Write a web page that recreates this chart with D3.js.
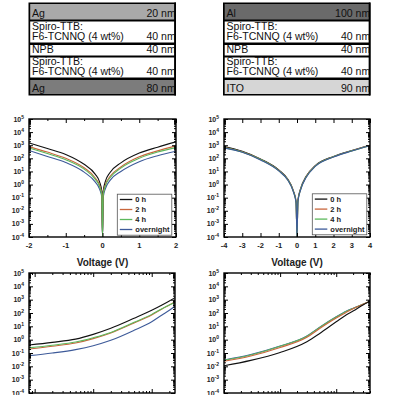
<!DOCTYPE html>
<html>
<head>
<meta charset="utf-8">
<script src="https://cdn.jsdelivr.net/npm/d3@7/dist/d3.min.js"></script>
<style>
body { margin: 0; background: #fff; }
text { font-family: "Liberation Sans", Arial, sans-serif; }
</style>
</head>
<body>
<script>
/* LAYER STACKS */
var leftLayers = ["Ag", "Spiro-TTB:|F6-TCNNQ (4 wt%)", "NPB", "Spiro-TTB:|F6-TCNNQ (4 wt%)", "Ag"];
var leftThickness = ["20 nm", "40 nm", "40 nm", "40 nm", "80 nm"];
var rightLayers = ["Al", "Spiro-TTB:|F6-TCNNQ (4 wt%)", "NPB", "Spiro-TTB:|F6-TCNNQ (4 wt%)", "ITO"];
var rightThickness = ["100 nm", "40 nm", "40 nm", "40 nm", "90 nm"];

/* SERIES */
var seriesNames = ["0 h", "2 h", "4 h", "overnight"];

var yTickExps = [-4, -3, -2, -1, 0, 1, 2, 3, 4, 5];
var xTicksLeft = [-2, -1, 0, 1, 2];
var xTicksRight = [-4, -3, -2, -1, 0, 1, 2, 3, 4];

// top left : linear voltage
var voltsTL = [-2, -1.5, -1, -0.5, -0.2, -0.08, -0.02, 0, 0.02, 0.08, 0.2, 0.5, 1, 1.5, 2];
var tl_0h   = [1.5e3, 5.6e2, 2.0e2, 35, 6.3, 1.6, 0.32, 1e-4, 0.32, 1.8, 7.9, 45, 2.5e2, 7.1e2, 1.8e3];
var tl_2h   = [7.9e2, 3.0e2, 1.0e2, 19, 3.3, 0.89, 0.2, 1e-4, 0.2, 1.0, 4.0, 22, 1.3e2, 3.7e2, 8.9e2];
var tl_4h   = [6.3e2, 2.3e2, 79, 15, 2.6, 0.71, 0.16, 1e-4, 0.16, 0.79, 3.2, 18, 1.0e2, 3.0e2, 6.6e2];
var tl_over = [4.0e2, 1.4e2, 48, 8.9, 1.6, 0.45, 0.11, 1e-4, 0.11, 0.5, 2.0, 10, 56, 1.6e2, 3.5e2];

// top right : linear voltage
var voltsTR = [-4, -3, -2, -1, -0.5, -0.2, -0.05, 0, 0.05, 0.2, 0.5, 1, 2, 3, 4];
var tr_0h   = [7.9e2, 3.4e2, 89, 13, 2.5, 0.35, 0.05, 1e-4, 0.063, 0.5, 4.2, 28, 1.4e2, 4.0e2, 1.0e3];
var tr_2h   = [7.0e2, 3.1e2, 82, 12, 2.3, 0.32, 0.045, 1e-4, 0.056, 0.45, 3.9, 26, 1.3e2, 3.8e2, 9.5e2];
var tr_4h   = [6.6e2, 3.0e2, 80, 11.5, 2.2, 0.3, 0.042, 1e-4, 0.053, 0.43, 3.7, 25, 1.3e2, 3.7e2, 9.3e2];
var tr_over = [6.3e2, 2.9e2, 76, 11, 2.1, 0.28, 0.04, 1e-4, 0.05, 0.4, 3.5, 24, 1.25e2, 3.6e2, 9.1e2];

// bottom left : log voltage
var voltsBL = [0.008, 0.02, 0.05, 0.1, 0.2, 0.5, 1, 1.5, 2, 2.5];
var bl_0h   = [0.4, 0.63, 1.1, 2.5, 7.1, 40, 1.6e2, 4.0e2, 7.9e2, 1.4e3];
var bl_2h   = [0.2, 0.32, 0.56, 1.2, 3.2, 18, 71, 2.0e2, 4.0e2, 7.1e2];
var bl_4h   = [0.24, 0.38, 0.66, 1.4, 3.5, 20, 79, 2.1e2, 4.0e2, 6.3e2];
var bl_over = [0.063, 0.1, 0.18, 0.35, 0.89, 5.0, 22, 71, 1.6e2, 3.2e2];

// bottom right : log voltage
var voltsBR = [0.01, 0.03, 0.1, 0.3, 0.5, 1, 1.5, 2, 3, 4];
var br_0h   = [0.011, 0.028, 0.11, 0.71, 2.8, 22, 71, 1.4e2, 4.0e2, 7.6e2];
var br_2h   = [0.024, 0.06, 0.26, 1.5, 6.6, 42, 1.1e2, 2.1e2, 4.5e2, 7.6e2];
var br_4h   = [0.028, 0.071, 0.32, 1.8, 7.9, 50, 1.3e2, 2.2e2, 4.5e2, 7.6e2];
var br_over = [0.03, 0.076, 0.33, 1.9, 8.3, 52, 1.35e2, 2.3e2, 4.5e2, 7.4e2];

var colors = ["#111111", "#c8663c", "#5cb85c", "#3d5a99"];

var svg = d3.select("body").append("svg")
    .attr("width", 394)
    .attr("height", 395);

/* LAYER STACK DRAWING */
var bands = [[4, 19.5], [21.5, 42.5], [45, 55.5], [57.5, 77.5], [80, 94]];
var stackFont = "Lato, 'Open Sans', sans-serif";

// find a font size so the long layer name is about 92 px wide, as in the picture
var probe = svg.append("text")
    .attr("font-family", stackFont)
    .attr("font-size", 12)
    .text("F6-TCNNQ (4 wt%)");
var stackSize = 12 * 92 / probe.node().getComputedTextLength();
probe.remove();

function drawStack(x0, x1, names, thick, fills) {
  var g = svg.append("g");
  g.append("rect")
    .attr("x", x0).attr("y", 2.5)
    .attr("width", x1 - x0).attr("height", 93)
    .attr("fill", "#000");
  names.forEach(function(n, i) {
    var b = bands[i];
    g.append("rect")
      .attr("x", x0 + 1.7).attr("y", b[0])
      .attr("width", x1 - x0 - 3.4).attr("height", b[1] - b[0])
      .attr("fill", fills[i]);
    var lines = n.split("|");
    var base = b[1] - 2.3;
    // one text per cell, lines as tspans (tight leading like the original)
    var t = g.append("text")
      .attr("x", x0 + 3.5)
      .attr("y", base - (lines.length - 1) * 10)
      .attr("font-family", stackFont)
      .attr("font-size", stackSize)
      .attr("fill", "#111");
    lines.forEach(function(l, j) {
      t.append("tspan")
        .attr("x", x0 + 3.5)
        .attr("dy", j == 0 ? 0 : 10)
        .text(l);
    });
    g.append("text")
      .attr("x", x1 - 0.3)
      .attr("y", base)
      .attr("text-anchor", "end")
      .attr("font-family", stackFont)
      .attr("font-size", stackSize)
      .attr("fill", "#111")
      .text(thick[i]);
  });
  // right border drawn over the text
  g.append("rect")
    .attr("x", x1 - 1.7).attr("y", 2.5)
    .attr("width", 1.7).attr("height", 93)
    .attr("fill", "#000");
}

drawStack(28.5, 176, leftLayers, leftThickness, ["#a9a9a9", "#fff", "#fff", "#fff", "#7c7c7c"]);
drawStack(223, 370.5, rightLayers, rightThickness, ["#6a6a6a", "#fff", "#fff", "#fff", "#d6d6d6"]);

/* PANELS */
function logTicks(lo, hi) {
  var major = [], minor = [];
  for (var e = -6; e <= 6; e++) {
    for (var k = 1; k <= 9; k++) {
      var v = k * Math.pow(10, e);
      if (v < lo * 0.999 || v > hi * 1.001) continue;
      if (k == 1) major.push(v); else minor.push(v);
    }
  }
  return {major: major, minor: minor};
}

function drawPanel(p, id) {
  var g = svg.append("g");
  var x = p.logX ? d3.scaleLog() : d3.scaleLinear();
  x.domain(p.xDomain).range([p.x0, p.x1]);
  var y = d3.scaleLog().domain([1e-4, 1e5]).range([p.y1, p.y0]);

  g.append("clipPath").attr("id", "clip" + id)
    .append("rect")
    .attr("x", p.x0).attr("y", p.y0)
    .attr("width", p.x1 - p.x0).attr("height", p.y1 - p.y0);

  var line = d3.line()
      .x(function(d) { return x(d[0]); })
      .y(function(d) { return y(d[1]); })
      .curve(d3.curveMonotoneX);

  var lines = g.append("g").attr("clip-path", "url(#clip" + id + ")");
  p.order.forEach(function(i) {
    var pts = p.volts.map(function(v, j) { return [v, p.series[i][j]]; });
    lines.append("path")
      .attr("d", line(pts))
      .attr("fill", "none")
      .attr("stroke", colors[i])
      .attr("stroke-width", 1.1);
  });

  // y ticks (inward, both sides)
  var yt = logTicks(1e-4, 1e5);
  function noDomain(s) { s.select(".domain").remove(); s.selectAll("line").attr("stroke", "#000"); }
  g.append("g").attr("transform", "translate(" + p.x0 + ",0)")
    .call(d3.axisRight(y).tickValues(yt.major).tickSize(4).tickFormat("")).call(noDomain);
  g.append("g").attr("transform", "translate(" + p.x0 + ",0)")
    .call(d3.axisRight(y).tickValues(yt.minor).tickSize(2).tickFormat("")).call(noDomain);
  g.append("g").attr("transform", "translate(" + p.x1 + ",0)")
    .call(d3.axisLeft(y).tickValues(yt.major).tickSize(4).tickFormat("")).call(noDomain);
  g.append("g").attr("transform", "translate(" + p.x1 + ",0)")
    .call(d3.axisLeft(y).tickValues(yt.minor).tickSize(2).tickFormat("")).call(noDomain);

  // x ticks
  var xMajor, xMinor;
  if (p.logX) {
    var xt = logTicks(p.xDomain[0], p.xDomain[1]);
    xMajor = xt.major; xMinor = xt.minor;
  } else {
    xMajor = p.xTicks;
    xMinor = p.xMinor;
  }
  [[p.y0, d3.axisBottom], [p.y1, d3.axisTop]].forEach(function(s) {
    g.append("g").attr("transform", "translate(0," + s[0] + ")")
      .call(s[1](x).tickValues(xMajor).tickSize(4).tickFormat("")).call(noDomain);
    g.append("g").attr("transform", "translate(0," + s[0] + ")")
      .call(s[1](x).tickValues(xMinor).tickSize(2).tickFormat("")).call(noDomain);
  });

  g.append("rect")
    .attr("x", p.x0).attr("y", p.y0)
    .attr("width", p.x1 - p.x0).attr("height", p.y1 - p.y0)
    .attr("fill", "none")
    .attr("stroke", "#000")
    .attr("stroke-width", 1.4);

  // y labels 10^n
  yTickExps.forEach(function(e) {
    var t = g.append("text")
      .attr("x", p.x0 - 5)
      .attr("y", y(Math.pow(10, e)) + 2.5)
      .attr("text-anchor", "end")
      .attr("font-size", 7)
      .attr("font-weight", "bold")
      .attr("fill", "#222");
    t.append("tspan").text("10");
    t.append("tspan").attr("dy", -3).attr("font-size", 5).text(e);
  });

  // x labels
  if (!p.logX) {
    p.xTicks.forEach(function(v) {
      g.append("text")
        .attr("x", x(v))
        .attr("y", p.y1 + 11)
        .attr("text-anchor", "middle")
        .attr("font-size", 7.5)
        .attr("font-weight", "bold")
        .attr("fill", "#222")
        .text(v);
    });
    g.append("text")
      .attr("x", (p.x0 + p.x1) / 2)
      .attr("y", p.y1 + 29)
      .attr("text-anchor", "middle")
      .attr("font-size", 10)
      .attr("font-weight", "bold")
      .attr("fill", "#222")
      .text("Voltage (V)");
  }

  // legend
  if (p.legend) {
    var lx = p.legend[0], ly = p.legend[1];
    g.append("rect")
      .attr("x", lx).attr("y", ly)
      .attr("width", 54.5).attr("height", 41)
      .attr("fill", "#fff")
      .attr("stroke", "#555")
      .attr("stroke-width", 0.8);
    seriesNames.forEach(function(n, i) {
      var cy = ly + 5.3 + i * 10;
      g.append("line")
        .attr("x1", lx + 2.5).attr("x2", lx + 15)
        .attr("y1", cy).attr("y2", cy)
        .attr("stroke", colors[i])
        .attr("stroke-width", 1.3);
      g.append("text")
        .attr("x", lx + 18)
        .attr("y", cy + 2.6)
        .attr("font-size", 7.5)
        .attr("font-weight", "bold")
        .attr("fill", "#222")
        .text(n);
    });
  }
}

drawPanel({x0: 29, x1: 176, y0: 119, y1: 237, xDomain: [-2, 2],
  xTicks: xTicksLeft, xMinor: [-1.5, -0.5, 0.5, 1.5],
  volts: voltsTL, series: [tl_0h, tl_2h, tl_4h, tl_over], order: [3, 0, 1, 2],
  legend: [117.3, 194.2]}, 1);

drawPanel({x0: 224, x1: 370, y0: 119, y1: 237, xDomain: [-4, 4],
  xTicks: xTicksRight, xMinor: [],
  volts: voltsTR, series: [tr_0h, tr_2h, tr_4h, tr_over], order: [0, 1, 2, 3],
  legend: [312.3, 193.8]}, 2);

drawPanel({x0: 29, x1: 175, y0: 273, y1: 393, logX: true, xDomain: [0.008, 2.5],
  volts: voltsBL, series: [bl_0h, bl_2h, bl_4h, bl_over], order: [0, 1, 2, 3]}, 3);

drawPanel({x0: 224, x1: 370, y0: 273, y1: 393, logX: true, xDomain: [0.01, 4],
  volts: voltsBR, series: [br_0h, br_2h, br_4h, br_over], order: [3, 2, 1, 0]}, 4);
</script>
</body>
</html>
